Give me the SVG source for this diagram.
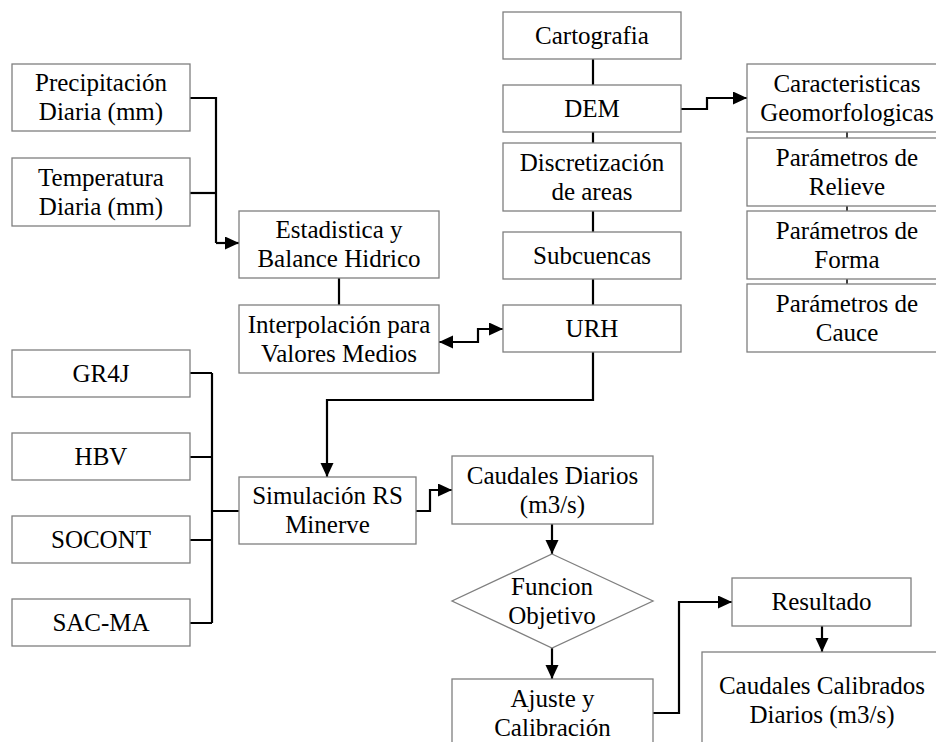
<svg xmlns="http://www.w3.org/2000/svg" width="936" height="742" viewBox="0 0 936 742">
<style>
.b{fill:#fff;stroke:#7f7f7f;stroke-width:1.3}
.c{fill:none;stroke:#000;stroke-width:2.2}
.a{marker-end:url(#ah)}
</style>
<defs>
<marker id="ah" markerUnits="userSpaceOnUse" markerWidth="15" markerHeight="14" refX="14" refY="6.5" orient="auto-start-reverse" viewBox="0 0 15 14">
<path d="M0,0 L14,6.5 L0,13 z" fill="#000"/>
</marker>
</defs>
<rect width="936" height="742" fill="#fff"/>
<g id="connectors">
<path class="c" d="M190,98 H216 V243"/>
<path class="c a" d="M216,243 H239"/>
<path class="c" d="M190,193 H216"/>
<path class="c" d="M339,278 V305"/>
<path class="c" d="M593,59 V85 M593,132 V143 M593,211 V232 M593,279 V305"/>
<path class="c" d="M847,132 V138 M847,206 V211 M847,279 V284" style="stroke-width:1.5"/>
<path class="c" d="M439,342 H478 V329 H503" style="marker-start:url(#ah);marker-end:url(#ah)"/>
<path class="c a" d="M681,109 H707 V98 H747"/>
<path class="c a" d="M593,352 V400 H327 V477"/>
<path class="c" d="M190,373 H212 M190,457 H212 M190,540 H212 M190,623 H212 M212,373 V623 M212,511 H239"/>
<path class="c a" d="M416,511 H430 V490 H452"/>
<path class="c a" d="M552,524 V554"/>
<path class="c a" d="M552,648 V679"/>
<path class="c a" d="M653,713 H679 V602 H732"/>
<path class="c a" d="M822,626 V652"/>
</g>
<g font-family="Liberation Serif" font-size="25" text-anchor="middle" fill="#000">
<g id="precipitacion"><rect class="b" x="12" y="64" width="178" height="67"/><text x="101" y="91">Precipitación</text><text x="101" y="120">Diaria (mm)</text></g>
<g id="temperatura"><rect class="b" x="12" y="158" width="178" height="68"/><text x="101" y="185.5">Temperatura</text><text x="101" y="214.5">Diaria (mm)</text></g>
<g id="estadistica"><rect class="b" x="239" y="211" width="200" height="67"/><text x="339" y="238">Estadistica y</text><text x="339" y="267">Balance Hidrico</text></g>
<g id="interpolacion"><rect class="b" x="239" y="305" width="200" height="68"/><text x="339" y="332.5">Interpolación para</text><text x="339" y="361.5">Valores Medios</text></g>
<g id="cartografia"><rect class="b" x="503" y="12" width="178" height="47"/><text x="592" y="43.5">Cartografia</text></g>
<g id="dem"><rect class="b" x="503" y="85" width="178" height="47"/><text x="592" y="116.5">DEM</text></g>
<g id="discretizacion"><rect class="b" x="503" y="143" width="178" height="68"/><text x="592" y="170.5">Discretización</text><text x="592" y="199.5">de areas</text></g>
<g id="subcuencas"><rect class="b" x="503" y="232" width="178" height="47"/><text x="592" y="263.5">Subcuencas</text></g>
<g id="urh"><rect class="b" x="503" y="305" width="178" height="47"/><text x="592" y="336.5">URH</text></g>
<g id="caracteristicas"><rect class="b" x="747" y="64" width="200" height="68"/><text x="847" y="91.5">Caracteristicas</text><text x="847" y="120.5">Geomorfologicas</text></g>
<g id="relieve"><rect class="b" x="747" y="138" width="200" height="68"/><text x="847" y="165.5">Parámetros de</text><text x="847" y="194.5">Relieve</text></g>
<g id="forma"><rect class="b" x="747" y="211" width="200" height="68"/><text x="847" y="238.5">Parámetros de</text><text x="847" y="267.5">Forma</text></g>
<g id="cauce"><rect class="b" x="747" y="284" width="200" height="68"/><text x="847" y="311.5">Parámetros de</text><text x="847" y="340.5">Cauce</text></g>
<g id="gr4j"><rect class="b" x="12" y="350" width="178" height="47"/><text x="101" y="381.5">GR4J</text></g>
<g id="hbv"><rect class="b" x="12" y="433" width="178" height="47"/><text x="101" y="464.5">HBV</text></g>
<g id="socont"><rect class="b" x="12" y="516" width="178" height="47"/><text x="101" y="547.5">SOCONT</text></g>
<g id="sacma"><rect class="b" x="12" y="599" width="178" height="47"/><text x="101" y="630.5">SAC-MA</text></g>
<g id="simulacion"><rect class="b" x="239" y="477" width="177" height="67"/><text x="327.5" y="504">Simulación RS</text><text x="327.5" y="533">Minerve</text></g>
<g id="caudales"><rect class="b" x="452" y="456" width="201" height="68"/><text x="552.5" y="483.5">Caudales Diarios</text><text x="552.5" y="512.5">(m3/s)</text></g>
<g id="funcion"><polygon class="b" points="552,554 653,601 552,648 452,601"/><text x="552" y="594.5">Funcion</text><text x="552" y="623.5">Objetivo</text></g>
<g id="ajuste"><rect class="b" x="452" y="679" width="201" height="69"/><text x="552.5" y="707">Ajuste y</text><text x="552.5" y="736">Calibración</text></g>
<g id="resultado"><rect class="b" x="732" y="578" width="179" height="48"/><text x="821.5" y="610">Resultado</text></g>
<g id="calibrados"><rect class="b" x="702" y="652" width="240" height="100"/><text x="822" y="693.5">Caudales Calibrados</text><text x="822" y="722.5">Diarios (m3/s)</text></g>
</g>
</svg>
